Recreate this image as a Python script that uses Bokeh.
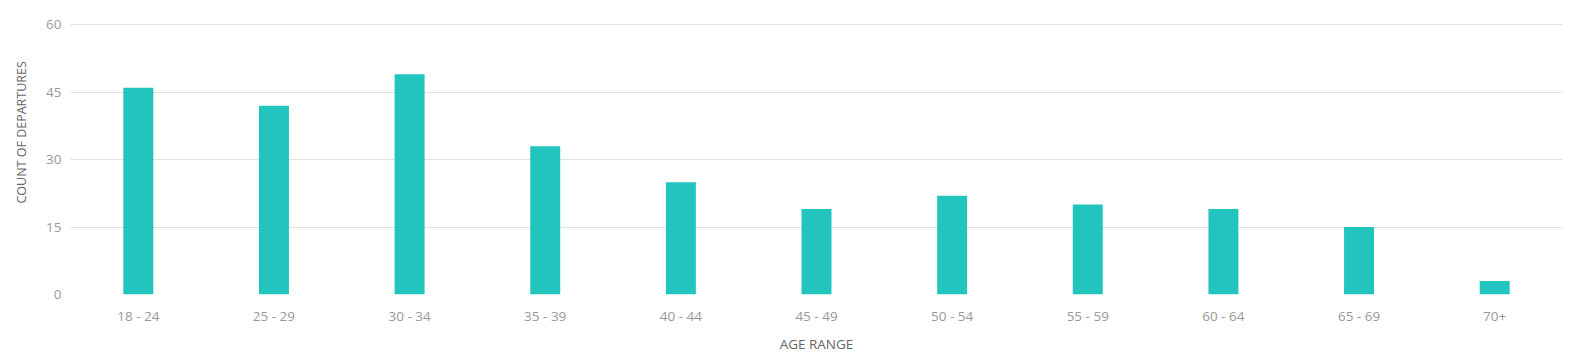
from bokeh.plotting import figure
from bokeh.models import Range1d, FixedTicker, Title
from bokeh.embed import file_html
from bokeh.resources import INLINE

categories = ["18 - 24", "25 - 29", "30 - 34", "35 - 39", "40 - 44", "45 - 49",
              "50 - 54", "55 - 59", "60 - 64", "65 - 69", "70+"]
counts = [46, 42, 49, 33, 25, 19, 22, 20, 19, 15, 3]
y_ticks = [0, 15, 30, 45, 60]

p = figure(x_range=categories, y_range=Range1d(0, 60.3), width=1576, height=358,
           output_backend="svg", toolbar_location=None,
           min_border_left=69, min_border_right=14, min_border_top=23, min_border_bottom=64)
p.vbar(x=categories, top=counts, width=0.221, color="#22c5bd", line_color=None)

p.outline_line_color = None
p.xgrid.grid_line_color = None
p.ygrid.grid_line_color = "#e0e0e0"
p.ygrid.grid_line_width = 1
p.yaxis.ticker = FixedTicker(ticks=y_ticks)

for ax in (p.xaxis[0], p.yaxis[0]):
    ax.axis_line_color = None
    ax.major_tick_line_color = None
    ax.minor_tick_line_color = None
    ax.major_tick_out = 0
    ax.major_tick_in = 0
    ax.minor_tick_out = 0
    ax.minor_tick_in = 0
    ax.major_label_text_font = "Open Sans"
    ax.major_label_text_font_size = "13.5px"
    ax.major_label_text_color = "#999999"
    ax.axis_label_text_font = "Open Sans"
    ax.axis_label_text_font_style = "normal"
    ax.axis_label_text_color = "#666666"

p.xaxis.axis_label = "AGE RANGE"
p.xaxis.axis_label_text_font_size = "13.5px"
p.xaxis.major_label_standoff = 12
p.xaxis.axis_label_standoff = 7
p.yaxis.major_label_standoff = 9

ytitle = Title(text="COUNT OF DEPARTURES", align="left", offset=91, vertical_align="top",
               text_font="Open Sans", text_font_size="12.5px", text_font_style="normal",
               text_color="#666666", standoff=24)
p.add_layout(ytitle, "left")

open("out.html", "w").write(file_html(p, INLINE))
